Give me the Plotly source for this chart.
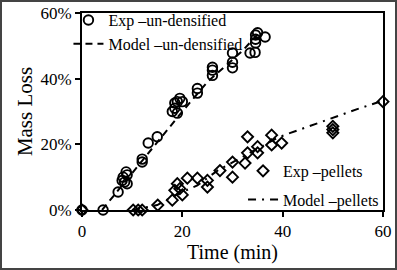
import plotly.graph_objects as go

# Experimental, un-densified (time min, mass loss %)
exp_und_t = [0, 4.2, 7.2, 8.2, 8.0, 9.0, 9.0, 8.8, 8.5, 12.0, 12.0, 13.2, 15.0,
             18.0, 18.5, 18.5, 19.0, 19.0, 20.0, 19.5, 23.0, 23.0, 26.0, 26.0, 26.0,
             30.0, 30.0, 30.0, 33.5, 34.5, 34.6, 34.6, 34.6, 35.0, 36.5]
exp_und_v = [0, 0, 5.5, 10.0, 9.0, 8.0, 10.7, 11.6, 8.5, 14.6, 15.5, 20.4, 22.3,
             30.0, 31.0, 32.6, 29.5, 33.0, 33.0, 34.0, 37.0, 35.6, 42.6, 41.0, 43.5,
             43.3, 45.0, 47.8, 47.8, 48.0, 50.9, 52.0, 53.3, 54.0, 52.7]

# Model, un-densified
mod_und_t = [4, 8, 12, 16, 20, 25, 28, 32, 35]
mod_und_v = [0, 7.5, 15.0, 22.5, 30.0, 39.0, 43.0, 48.5, 53.5]

# Experimental, pellets
exp_pel_t = [0, 10.2, 11.2, 12.0, 15.1, 18.0, 18.5, 19.0, 20.0, 19.5, 21.0, 23.0,
             25.0, 25.0, 27.5, 30.0, 30.0, 32.5, 33.0, 33.0, 35.0, 35.0, 37.8, 37.8,
             39.8, 50.0, 50.0, 50.0, 60.0]
exp_pel_v = [0, 0, 0, 0, 1.5, 3.0, 6.0, 8.0, 4.6, 6.5, 9.7, 9.7,
             9.0, 7.0, 12.0, 14.6, 10.0, 14.3, 22.3, 17.4, 19.3, 17.4, 22.8, 19.8,
             20.4, 23.5, 24.5, 25.5, 33.0]

# Model, pellets
mod_pel_t = [10, 15, 18, 20, 23, 27, 30, 33, 36, 39, 41.4, 44, 47, 50, 55, 60]
mod_pel_v = [0, 1.5, 4.0, 5.5, 7.5, 12.0, 14.5, 17.0, 19.5, 22.0, 23.4, 24.8, 26.5, 28.2, 30.8, 33.3]

x_ticks = [0, 20, 40, 60]
x_tick_labels = ["0", "20", "40", "60"]
y_ticks = [0, 20, 40, 60]
y_tick_labels = ["0%", "20%", "40%", "60%"]

FONT = "Liberation Serif"

fig = go.Figure()
fig.add_trace(go.Scatter(
    x=exp_und_t, y=exp_und_v, mode="markers", name="Exp \u2013un-densified",
    marker=dict(symbol="circle-open", size=9.5, color="black", line=dict(width=1.9, color="black")),
    cliponaxis=False, legend="legend", legendgroup="a"))
fig.add_trace(go.Scatter(
    x=mod_und_t, y=mod_und_v, mode="lines", name="Model \u2013un-densified",
    line=dict(color="black", width=2, dash="7px,5px"), legend="legend", legendgroup="b"))
fig.add_trace(go.Scatter(
    x=exp_pel_t, y=exp_pel_v, mode="markers", name="Exp \u2013pellets",
    marker=dict(symbol="diamond-open", size=8.5, color="black", line=dict(width=1.9, color="black")),
    cliponaxis=False, legend="legend2", legendgroup="c"))
fig.add_trace(go.Scatter(
    x=mod_pel_t, y=mod_pel_v, mode="lines", name="Model \u2013pellets",
    line=dict(color="black", width=2, dash="8px,6px,2px,6px"), legend="legend2", legendgroup="d"))

L, R, T, B = 82, 14, 13, 60
W, H = 397, 270
pw, ph = W - L - R, H - T - B

fig.update_layout(
    width=W, height=H,
    margin=dict(l=L, r=R, t=T, b=B, pad=0, autoexpand=False),
    paper_bgcolor="white", plot_bgcolor="white",
    font=dict(family=FONT, size=17, color="black"),
    legend=dict(x=-0.045, y=1.05, xanchor="left", yanchor="top",
                bgcolor="rgba(0,0,0,0)", font=dict(family=FONT, size=16, color="black"),
                itemwidth=30, tracegroupgap=0, traceorder="grouped"),
    legend2=dict(x=0.535, y=-0.035, xanchor="left", yanchor="bottom",
                 bgcolor="rgba(0,0,0,0)", font=dict(family=FONT, size=16, color="black"),
                 itemwidth=30, tracegroupgap=5, traceorder="grouped"),
    shapes=[dict(type="rect", xref="paper", yref="paper",
                 x0=-L / pw, x1=(W - L) / pw, y0=-B / ph, y1=(H - B) / ph,
                 line=dict(color="#444444", width=4), fillcolor="rgba(0,0,0,0)", layer="above")],
)
fig.update_xaxes(range=[0, 60], tickvals=x_ticks, ticktext=x_tick_labels, ticks="outside",
                 ticklen=5, tickwidth=2,
                 tickcolor="black", showline=True, linecolor="black", linewidth=2, mirror=True,
                 showgrid=False, zeroline=False,
                 title=dict(text="Time (min)", font=dict(family=FONT, size=20), standoff=2),
                 tickfont=dict(family=FONT, size=17))
fig.update_yaxes(range=[0, 60], tickvals=y_ticks, ticktext=y_tick_labels, ticks="outside", ticklen=5,
                 tickwidth=2, tickcolor="black", showline=True, linecolor="black", linewidth=2,
                 mirror=True, showgrid=False, zeroline=False,
                 title=dict(text="Mass Loss", font=dict(family=FONT, size=21), standoff=2),
                 tickfont=dict(family=FONT, size=17))

fig.write_html("out.html", config={"displayModeBar": False},
               post_script="document.body.style.margin='0';document.body.style.padding='0';")
